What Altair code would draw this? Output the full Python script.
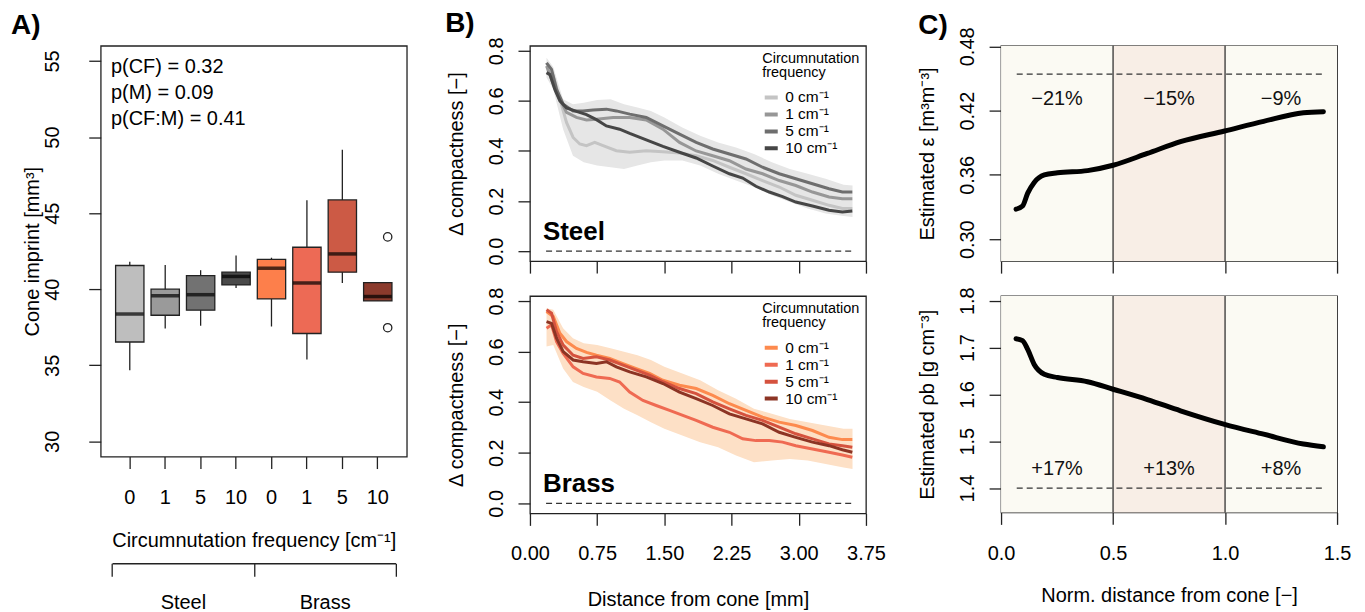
import altair as alt
import pandas as pd

FONT = "Liberation Sans"

# ---------------- Panel A: cone imprint boxplots ----------------
materials = ["Steel", "Steel", "Steel", "Steel", "Brass", "Brass", "Brass", "Brass"]
freqs = ["0", "1", "5", "10", "0", "1", "5", "10"]
whisker_lo = [34.67, 37.42, 37.60, 40.08, 37.55, 35.38, 40.41, 39.23]
q1 = [36.53, 38.29, 38.62, 40.28, 39.36, 37.09, 41.12, 39.23]
median = [38.37, 39.57, 39.64, 40.84, 41.38, 40.41, 42.32, 39.52]
q3 = [41.56, 40.00, 40.89, 41.12, 41.96, 42.76, 45.87, 40.43]
whisker_hi = [41.80, 41.60, 41.25, 42.22, 42.07, 45.84, 49.16, 40.43]
box_colors = ["#bebebe", "#9a9a9a", "#727272", "#4a4a4a",
              "#fd7f4b", "#ed6a55", "#cc5a45", "#8b3a2c"]
outlier_material = ["Brass", "Brass"]
outlier_freq = ["10", "10"]
outlier_values = [43.44, 37.47]
p_texts = ["p(CF) = 0.32", "p(M) = 0.09", "p(CF:M) = 0.41"]
p_y = [54.18, 52.52, 50.77]
p_x = [0.47, 0.47, 0.47]
a_y_ticks = [30, 35, 40, 45, 50, 55]
a_y_domain = [29, 56]

# ---------------- Panel B: delta compactness profiles ----------------
freq_labels = ["0 cm⁻¹", "1 cm⁻¹", "5 cm⁻¹", "10 cm⁻¹"]
steel_colors = ["#c4c4c4", "#979797", "#6e6e6e", "#464646"]
brass_colors = ["#fd8a4e", "#ef6a52", "#d5523e", "#8c3424"]

steel_x_0 = [0.185, 0.26, 0.334, 0.408, 0.482, 0.556, 0.631, 0.723, 0.816, 0.964, 1.113, 1.298,
             1.484, 1.669, 1.855, 2.04, 2.226, 2.411, 2.596, 2.782, 2.967, 3.153, 3.338, 3.487, 3.598]
steel_y_0 = [0.752, 0.70, 0.607, 0.514, 0.454, 0.428, 0.421, 0.434, 0.421, 0.401, 0.395, 0.401,
             0.397, 0.392, 0.381, 0.362, 0.335, 0.309, 0.282, 0.256, 0.223, 0.203, 0.183, 0.17, 0.17]
steel_x_1 = [0.185, 0.297, 0.408, 0.519, 0.631, 0.742, 0.927, 1.113, 1.298, 1.484, 1.669, 1.855,
             2.04, 2.226, 2.411, 2.596, 2.782, 2.967, 3.153, 3.338, 3.487, 3.598]
steel_y_1 = [0.739, 0.633, 0.554, 0.534, 0.524, 0.527, 0.534, 0.534, 0.524, 0.487, 0.434, 0.40,
             0.381, 0.361, 0.328, 0.309, 0.282, 0.262, 0.236, 0.216, 0.209, 0.209]
steel_x_5 = [0.185, 0.241, 0.297, 0.371, 0.482, 0.593, 0.705, 0.853, 0.964, 1.113, 1.298, 1.484,
             1.669, 1.855, 2.04, 2.226, 2.411, 2.596, 2.782, 2.967, 3.153, 3.338, 3.487, 3.598]
steel_y_5 = [0.752, 0.726, 0.646, 0.587, 0.56, 0.56, 0.564, 0.567, 0.56, 0.547, 0.534, 0.50,
             0.467, 0.434, 0.408, 0.388, 0.368, 0.335, 0.309, 0.289, 0.269, 0.249, 0.236, 0.236]
steel_x_10 = [0.185, 0.223, 0.278, 0.334, 0.408, 0.519, 0.631, 0.742, 0.853, 1.0, 1.113, 1.298,
              1.484, 1.669, 1.855, 2.04, 2.226, 2.374, 2.522, 2.671, 2.819, 2.967, 3.153, 3.338,
              3.487, 3.598]
steel_y_10 = [0.713, 0.705, 0.646, 0.60, 0.572, 0.558, 0.545, 0.525, 0.50, 0.487, 0.47, 0.444,
              0.418, 0.395, 0.372, 0.34, 0.309, 0.292, 0.259, 0.236, 0.218, 0.196, 0.18, 0.163,
              0.156, 0.16]

ribbon_x = [0.185, 0.26, 0.37, 0.48, 0.6, 0.75, 0.9, 1.05, 1.2, 1.35, 1.5, 1.7, 1.9, 2.1, 2.3,
            2.5, 2.7, 2.9, 3.1, 3.3, 3.5, 3.6]
steel_ribbon_hi = [0.772, 0.735, 0.607, 0.587, 0.593, 0.604, 0.607, 0.587, 0.574, 0.56, 0.534,
                   0.494, 0.461, 0.434, 0.414, 0.388, 0.355, 0.328, 0.309, 0.289, 0.265, 0.262]
steel_ribbon_lo = [0.693, 0.646, 0.487, 0.381, 0.355, 0.342, 0.335, 0.328, 0.342, 0.355, 0.362,
                   0.362, 0.342, 0.309, 0.282, 0.256, 0.223, 0.196, 0.17, 0.15, 0.14, 0.136]

brass_x_0 = [0.185, 0.26, 0.334, 0.408, 0.519, 0.631, 0.742, 0.89, 1.039, 1.187, 1.335, 1.484,
             1.669, 1.855, 2.04, 2.226, 2.411, 2.596, 2.782, 2.967, 3.153, 3.338, 3.487, 3.598]
brass_y_0 = [0.759, 0.739, 0.673, 0.64, 0.613, 0.597, 0.586, 0.573, 0.553, 0.533, 0.514, 0.487,
             0.467, 0.454, 0.427, 0.394, 0.368, 0.341, 0.321, 0.308, 0.288, 0.261, 0.252, 0.252]
brass_x_1 = [0.185, 0.241, 0.297, 0.371, 0.482, 0.593, 0.742, 0.89, 1.001, 1.113, 1.261, 1.409,
             1.558, 1.706, 1.855, 2.04, 2.226, 2.374, 2.522, 2.671, 2.819, 2.967, 3.153, 3.338,
             3.487, 3.598]
brass_y_1 = [0.693, 0.706, 0.64, 0.593, 0.54, 0.514, 0.50, 0.494, 0.48, 0.44, 0.407, 0.387,
             0.368, 0.348, 0.328, 0.301, 0.281, 0.255, 0.248, 0.248, 0.242, 0.228, 0.215, 0.202,
             0.191, 0.182]
brass_x_5 = [0.185, 0.241, 0.297, 0.371, 0.482, 0.593, 0.742, 0.89, 1.039, 1.187, 1.335, 1.484,
             1.669, 1.855, 2.04, 2.226, 2.411, 2.596, 2.782, 2.967, 3.153, 3.338, 3.487, 3.598]
brass_y_5 = [0.766, 0.752, 0.679, 0.626, 0.586, 0.573, 0.58, 0.567, 0.547, 0.527, 0.507, 0.481,
             0.454, 0.434, 0.401, 0.374, 0.348, 0.328, 0.301, 0.275, 0.255, 0.235, 0.228, 0.222]
brass_x_10 = [0.185, 0.241, 0.297, 0.371, 0.482, 0.593, 0.742, 0.853, 0.964, 1.113, 1.298, 1.484,
              1.669, 1.855, 2.04, 2.226, 2.411, 2.596, 2.782, 2.967, 3.153, 3.338, 3.487, 3.598]
brass_y_10 = [0.719, 0.712, 0.653, 0.60, 0.567, 0.56, 0.553, 0.56, 0.54, 0.52, 0.50, 0.474,
              0.44, 0.414, 0.387, 0.354, 0.334, 0.314, 0.281, 0.261, 0.242, 0.228, 0.212, 0.202]
brass_ribbon_hi = [0.772, 0.766, 0.693, 0.653, 0.633, 0.626, 0.613, 0.60, 0.586, 0.567, 0.54,
                   0.514, 0.487, 0.447, 0.414, 0.374, 0.354, 0.334, 0.321, 0.308, 0.295, 0.295]
brass_ribbon_lo = [0.62, 0.626, 0.533, 0.48, 0.46, 0.441, 0.407, 0.374, 0.348, 0.321, 0.295,
                   0.268, 0.242, 0.222, 0.189, 0.162, 0.169, 0.175, 0.169, 0.155, 0.142, 0.136]

b_zero_line = [0.18, 3.6]
b_label_pos = [0.145, 0.044]
b_x_ticks = [0, 0.75, 1.5, 2.25, 3.0, 3.75]
b_y_ticks = [0, 0.2, 0.4, 0.6, 0.8]
b_y_domain = [-0.04, 0.82]

# ---------------- Panel C: estimated porosity / bulk density ----------------
c_x = [0.067, 0.096, 0.119, 0.148, 0.193, 0.252, 0.386, 0.5, 0.653, 0.801, 0.998, 1.172,
       1.35, 1.439]
c_eps = [0.328, 0.331, 0.343, 0.353, 0.360, 0.362, 0.364, 0.369, 0.380, 0.391, 0.401, 0.410,
         0.418, 0.419]
c_rho = [1.719, 1.715, 1.696, 1.664, 1.643, 1.636, 1.627, 1.611, 1.589, 1.565, 1.536, 1.515,
         1.494, 1.488]
zone_names = ["z1", "z2", "z3"]
zone_start = [0.0, 0.5, 1.0]
zone_end = [0.5, 1.0, 1.5]
zone_colors = ["#fbfaf3", "#f8eee6", "#fbfaf3"]
eps_ref = 0.454
rho_ref = 1.40
ref_span = [0.07, 1.44]
eps_pct = ["−21%", "−15%", "−9%"]
rho_pct = ["+17%", "+13%", "+8%"]
eps_pct_y = 0.4257
rho_pct_y = 1.4285
c_x_ticks = [0.0, 0.5, 1.0, 1.5]
eps_ticks = [0.30, 0.36, 0.42, 0.48]
rho_ticks = [1.4, 1.5, 1.6, 1.7, 1.8]
eps_domain = [0.2795, 0.4805]
rho_domain = [1.348, 1.81]

DARK = "#222222"
TICK = 12
YPAD = 16


def panel_title(txt, dx, offset):
    return alt.TitleParams(txt, anchor="start", frame="group", dx=dx, offset=offset,
                           baseline="alphabetic", fontSize=28, fontWeight="bold",
                           font=FONT, color="black")


def y_axis(values, fmt, title, title_x, pad=YPAD):
    return alt.Axis(values=values, format=fmt, title=title, labelAngle=270,
                    labelAlign="center", labelBaseline="alphabetic", labelPadding=pad,
                    tickSize=TICK, ticks=True, domain=False, grid=False, titleX=title_x,
                    titleBaseline="alphabetic", titleAngle=270, labelFlush=False,
                    labelOverlap=False)


# ---------- Panel A ----------
A_W, A_H = 307, 412
keys = [f"{m} {f}" for m, f in zip(materials, freqs)]
box_df = pd.DataFrame({"key": keys, "lo": whisker_lo, "q1": q1, "med": median,
                       "q3": q3, "hi": whisker_hi})
out_df = pd.DataFrame({"key": [f"{m} {f}" for m, f in zip(outlier_material, outlier_freq)],
                       "v": outlier_values})
p_df = pd.DataFrame({"pos": p_x, "py": p_y, "t": p_texts})

yA_scale = alt.Scale(domain=a_y_domain, nice=False, zero=False)
yA_axis = y_axis(a_y_ticks, "d", "Cone imprint [mm³]", -62, pad=30)
xA_scale = alt.Scale(domain=keys, paddingInner=0.2, paddingOuter=0.42)
xA = alt.X("key:N", scale=xA_scale,
           axis=alt.Axis(title="Circumnutation frequency [cm⁻¹]",
                         labelExpr="split(datum.label, ' ')[1]", labelAngle=0,
                         labelPadding=19, tickSize=TICK, domain=False, titleY=90,
                         titleBaseline="alphabetic"))
xA_noaxis = alt.X("key:N", scale=xA_scale, axis=None)
colA = alt.Color("key:N", scale=alt.Scale(domain=keys, range=box_colors), legend=None)

whiskers = alt.Chart(box_df).mark_rule(color=DARK, strokeWidth=1.3).encode(
    x=xA, y=alt.Y("lo:Q", scale=yA_scale, axis=yA_axis), y2="hi:Q")
boxes = alt.Chart(box_df).mark_bar(stroke=DARK, strokeWidth=1.3).encode(
    x=xA_noaxis, y=alt.Y("q1:Q", scale=yA_scale, axis=yA_axis), y2="q3:Q", color=colA)
medians = alt.Chart(box_df).mark_tick(color="black", thickness=3.5, size=28).encode(
    x=xA_noaxis, y=alt.Y("med:Q", scale=yA_scale, axis=yA_axis))
outliers = alt.Chart(out_df).mark_point(shape="circle", filled=False, color=DARK,
                                        strokeWidth=1.3, size=70, opacity=1).encode(
    x=xA_noaxis, y=alt.Y("v:Q", scale=yA_scale, axis=yA_axis))

# material bracket (second x axis below)
n = len(keys)
step = A_W / (n + 0.64)
pos_lo, pos_hi = 0.5, n + 0.5
bounds = [0.5, 4.5, 8.5]
centers = [2.5, 6.5]
test = " || ".join(f"datum.value == {c}" for c in centers)
label_expr = " : ".join(f"datum.value == {c} ? '{m}'" for c, m in zip(centers, ["Steel", "Brass"])) + " : ''"
xB_axis = alt.Axis(orient="bottom", offset=107, values=sorted(bounds + centers),
                   labelExpr=label_expr, tickSize=13,
                   tickOpacity={"condition": {"test": test, "value": 0}, "value": 1},
                   domain=True, domainColor=DARK, domainWidth=1.3, title=None, grid=False,
                   labelPadding=16, labelFlush=False, labelOverlap=False)
xq = alt.X("pos:Q", scale=alt.Scale(domain=[pos_lo, pos_hi],
                                    range=[(pos_lo - 0.18) * step, (pos_hi - 0.18) * step],
                                    nice=False, zero=False), axis=xB_axis)
ptext = alt.Chart(p_df).mark_text(align="left", baseline="alphabetic", fontSize=20,
                                  font=FONT, color="black").encode(
    x=xq, y=alt.Y("py:Q", scale=yA_scale, axis=yA_axis), text="t:N")

A = alt.layer(whiskers, boxes, medians, outliers, ptext).resolve_scale(
    x="independent").properties(width=A_W, height=A_H, title=panel_title("A)", -90, -16))


# ---------- Panel B ----------
def panel_b(xs, ys, colors, rib_hi, rib_lo, label, bottom, height, title=None):
    rows = []
    for lab, xx, yy in zip(freq_labels, xs, ys):
        for a, b in zip(xx, yy):
            rows.append({"x": a, "y": b, "s": lab})
    ldf = pd.DataFrame(rows)
    rdf = pd.DataFrame({"x": ribbon_x, "lo": rib_lo, "hi": rib_hi})
    zdf = pd.DataFrame({"x": [b_zero_line[0]], "x2": [b_zero_line[1]], "y": [0.0]})
    tdf = pd.DataFrame({"x": [b_label_pos[0]], "y": [b_label_pos[1]], "t": [label]})
    ysc = alt.Scale(domain=b_y_domain, nice=False, zero=False)
    yax = y_axis(b_y_ticks, ".1f", "Δ compactness [−]", -68)
    if bottom:
        xax = alt.Axis(values=b_x_ticks, format=".2f", title="Distance from cone [mm]",
                       labelPadding=18, tickSize=TICK, domain=False, grid=False, titleY=92,
                       titleBaseline="alphabetic", labelFlush=False, labelOverlap=False)
    else:
        xax = alt.Axis(values=b_x_ticks, labels=False, title=None, tickSize=TICK,
                       domain=False, grid=False)
    xsc = alt.Scale(domain=[0, 3.75], nice=False, zero=False)
    X = lambda f: alt.X(f, scale=xsc, axis=xax)
    rib_col = "#e6e6e6" if label == "Steel" else "#fde0c6"
    ribbon = alt.Chart(rdf).mark_area(color=rib_col, opacity=1).encode(
        x=X("x:Q"), y=alt.Y("lo:Q", scale=ysc, axis=yax), y2="hi:Q")
    zero = alt.Chart(zdf).mark_rule(color="#333333", strokeWidth=1.3,
                                    strokeDash=[6, 4]).encode(
        x=X("x:Q"), x2="x2:Q", y=alt.Y("y:Q", scale=ysc, axis=yax))
    lines = alt.Chart(ldf).mark_line(strokeWidth=3).encode(
        x=X("x:Q"), y=alt.Y("y:Q", scale=ysc, axis=yax),
        color=alt.Color("s:N", scale=alt.Scale(domain=freq_labels, range=colors),
                        legend=alt.Legend(title=["Circumnutation", "frequency"],
                                          orient="top-right", offset=6, padding=0,
                                          titleFontSize=14.5, titleFontWeight="normal",
                                          titleLineHeight=14, titlePadding=9,
                                          titleFont=FONT, labelFont=FONT,
                                          labelFontSize=15.5, titleColor="black",
                                          labelColor="black", symbolType="stroke",
                                          symbolStrokeWidth=4, symbolSize=170,
                                          labelOffset=5, rowPadding=0, clipHeight=16.7)))
    txt = alt.Chart(tdf).mark_text(align="left", baseline="alphabetic", fontSize=26,
                                   fontWeight="bold", font=FONT, color="black").encode(
        x=X("x:Q"), y=alt.Y("y:Q", scale=ysc, axis=yax), text="t:N")
    ch = alt.layer(ribbon, zero, lines, txt).properties(width=337, height=height)
    if title is not None:
        ch = ch.properties(title=title)
    return ch


B1 = panel_b([steel_x_0, steel_x_1, steel_x_5, steel_x_10],
             [steel_y_0, steel_y_1, steel_y_5, steel_y_10], steel_colors,
             steel_ribbon_hi, steel_ribbon_lo, "Steel", False, 216,
             panel_title("B)", -85, -23))
B2 = panel_b([brass_x_0, brass_x_1, brass_x_5, brass_x_10],
             [brass_y_0, brass_y_1, brass_y_5, brass_y_10], brass_colors,
             brass_ribbon_hi, brass_ribbon_lo, "Brass", True, 218)
Bcol = alt.vconcat(B1, B2, spacing=11).resolve_scale(color="independent")


# ---------- Panel C ----------
def panel_c(yvals, ydom, yticks, yfmt, ytitle, ref, pct, pct_y, bottom, height, title=None):
    ysc = alt.Scale(domain=ydom, nice=False, zero=False)
    yax = y_axis(yticks, yfmt, ytitle, -68)
    if bottom:
        xax = alt.Axis(values=c_x_ticks, format=".1f", title="Norm. distance from cone [−]",
                       labelPadding=19, tickSize=TICK, domain=False, grid=False, titleY=89,
                       titleBaseline="alphabetic", labelFlush=False, labelOverlap=False)
    else:
        xax = alt.Axis(values=c_x_ticks, labels=False, title=None, tickSize=TICK,
                       domain=False, grid=False)
    xsc = alt.Scale(domain=[0, 1.5], nice=False, zero=False)
    X = lambda f: alt.X(f, scale=xsc, axis=xax)
    zdf = pd.DataFrame({"z": zone_names, "x0": zone_start, "x1": zone_end})
    vdf = pd.DataFrame({"x": zone_end[:-1]})
    rdf = pd.DataFrame({"x": [ref_span[0]], "x2": [ref_span[1]], "y": [ref]})
    centers_c = [(a + b) / 2 for a, b in zip(zone_start, zone_end)]
    tdf = pd.DataFrame({"x": centers_c, "y": [pct_y] * len(pct), "t": pct})
    cdf = pd.DataFrame({"x": c_x, "y": yvals})
    bg = alt.Chart(zdf).mark_rect(opacity=1).encode(
        x=X("x0:Q"), x2="x1:Q",
        color=alt.Color("z:N", scale=alt.Scale(domain=zone_names, range=zone_colors),
                        legend=None))
    vlines = alt.Chart(vdf).mark_rule(color=DARK, strokeWidth=1.2).encode(x=X("x:Q"))
    refl = alt.Chart(rdf).mark_rule(color="#333333", strokeWidth=1.3,
                                    strokeDash=[6, 4]).encode(
        x=X("x:Q"), x2="x2:Q", y=alt.Y("y:Q", scale=ysc, axis=yax))
    txt = alt.Chart(tdf).mark_text(align="center", baseline="alphabetic", fontSize=20,
                                   font=FONT, color="#111111").encode(
        x=X("x:Q"), y=alt.Y("y:Q", scale=ysc, axis=yax), text="t:N")
    curve = alt.Chart(cdf).mark_line(color="black", strokeWidth=5, strokeCap="round",
                                     interpolate="monotone").encode(
        x=X("x:Q"), y=alt.Y("y:Q", scale=ysc, axis=yax))
    ch = alt.layer(bg, vlines, refl, txt, curve).properties(width=337, height=height)
    if title is not None:
        ch = ch.properties(title=title)
    return ch


C1 = panel_c(c_eps, eps_domain, eps_ticks, ".2f", "Estimated  ε [m³m⁻³]", eps_ref, eps_pct,
             eps_pct_y, False, 216, panel_title("C)", -83, -35))
C2 = panel_c(c_rho, rho_domain, rho_ticks, ".1f", "Estimated  ρb  [g cm⁻³]", rho_ref, rho_pct,
             rho_pct_y, True, 217)
Ccol = alt.vconcat(C1, C2, spacing=11).resolve_scale(color="independent")

chart = alt.hconcat(A, alt.hconcat(Bcol, Ccol, spacing=29.5), spacing=36.5).properties(
    padding={"left": 2, "top": 0, "right": 5, "bottom": 5}
).configure(font=FONT).configure_view(stroke=DARK, strokeWidth=1.3).configure_axis(
    labelFont=FONT, titleFont=FONT, labelFontSize=20, titleFontSize=20, labelColor="black",
    titleColor="black", tickColor=DARK, tickWidth=1.3, titleFontWeight="normal", grid=False
).configure_axisY(
    labelAngle=270, labelAlign="center", labelBaseline="alphabetic",
    tickSize=TICK, ticks=True, titleAngle=270, titleBaseline="alphabetic"
)

chart.save("out.html", embed_options={"renderer": "svg", "actions": False})
